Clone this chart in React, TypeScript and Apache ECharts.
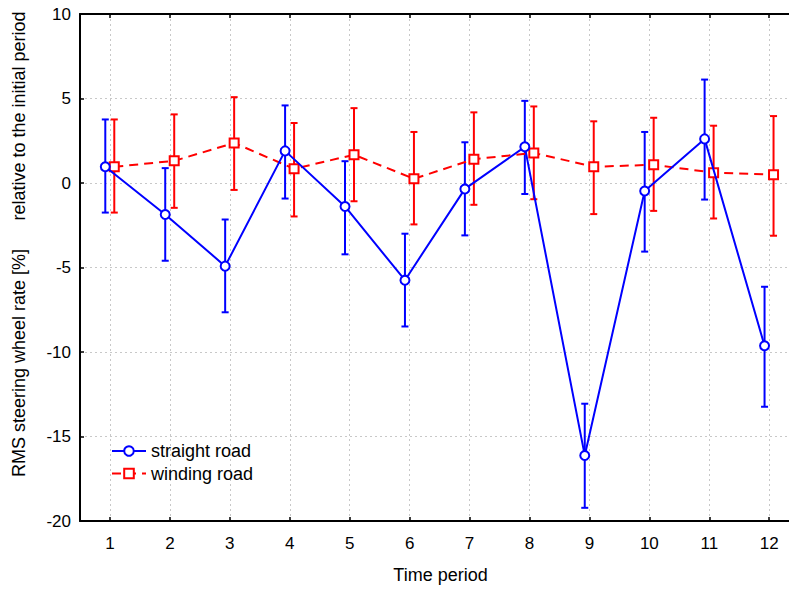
import React, { useEffect, useRef } from "react";
import * as echarts from "echarts";

const categories = [1, 2, 3, 4, 5, 6, 7, 8, 9, 10, 11, 12];
const straightMean = [0.96, -1.86, -4.92, 1.9, -1.39, -5.75, -0.35, 2.14, -16.12, -0.47, 2.61, -9.63];
const straightLow = [-1.75, -4.6, -7.65, -0.92, -4.22, -8.49, -3.1, -0.65, -19.22, -4.06, -0.98, -13.24];
const straightHigh = [3.76, 0.88, -2.16, 4.59, 1.29, -3.0, 2.41, 4.86, -13.06, 3.02, 6.12, -6.14];
const windingMean = [0.96, 1.31, 2.37, 0.84, 1.67, 0.25, 1.41, 1.78, 0.96, 1.08, 0.61, 0.49];
const windingLow = [-1.75, -1.47, -0.41, -1.98, -1.08, -2.45, -1.29, -0.96, -1.84, -1.65, -2.1, -3.12];
const windingHigh = [3.76, 4.06, 5.08, 3.55, 4.43, 3.02, 4.18, 4.53, 3.65, 3.86, 3.39, 3.96];
const yTitleMain = "RMS steering wheel rate [%]";
const yTitleSub = "relative to the initial period";

const FONT = "Liberation Sans";
const BLUE = "#0000ff";
const RED = "#ff0000";
const OFF_S = -0.078;
const OFF_W = 0.072;

function errorSeries(name: string, color: string, off: number, low: number[], high: number[]) {
  return {
    name,
    type: "custom",
    xAxisIndex: 0,
    yAxisIndex: 0,
    encode: { x: 0, y: [1, 2] },
    data: categories.map((c, i) => [c + off, low[i], high[i]]),
    z: 2,
    renderItem: (params: any, api: any) => {
      const x = api.value(0);
      const pLo = api.coord([x, api.value(1)]);
      const pHi = api.coord([x, api.value(2)]);
      const w = 3.5;
      const st = { stroke: color, lineWidth: 2 };
      return {
        type: "group",
        children: [
          { type: "line", shape: { x1: pLo[0], y1: pLo[1], x2: pHi[0], y2: pHi[1] }, style: st },
          { type: "line", shape: { x1: pLo[0] - w, y1: pLo[1], x2: pLo[0] + w, y2: pLo[1] }, style: st },
          { type: "line", shape: { x1: pHi[0] - w, y1: pHi[1], x2: pHi[0] + w, y2: pHi[1] }, style: st },
        ],
      };
    },
  };
}

export default function App() {
  const ref = useRef<HTMLDivElement>(null);
  useEffect(() => {
    if (!ref.current) return;
    const chart = echarts.init(ref.current, null, { renderer: "svg" });
    const gridLine = { show: true, lineStyle: { color: "#c8c8c8", type: [2, 3] as any, width: 1 } };
    chart.setOption({
      animation: false,
      backgroundColor: "#ffffff",
      textStyle: { fontFamily: FONT },
      grid: { left: 80, right: 0, top: 14, bottom: 65, containLabel: false },
      graphic: [
        {
          type: "text",
          x: 19,
          y: 363,
          rotation: Math.PI / 2,
          style: { text: yTitleMain, fontFamily: FONT, fontSize: 18, fill: "#000", align: "center", verticalAlign: "middle" },
        },
        {
          type: "text",
          x: 19,
          y: 116,
          rotation: Math.PI / 2,
          style: { text: yTitleSub, fontFamily: FONT, fontSize: 18, fill: "#000", align: "center", verticalAlign: "middle" },
        },
      ],
      legend: {
        orient: "vertical",
        left: 106,
        top: 437,
        itemWidth: 34,
        itemHeight: 12,
        itemGap: 4.5,
        textStyle: { fontFamily: FONT, fontSize: 18, color: "#000" },
        data: ["straight road", "winding road"],
      },
      xAxis: [
        {
          type: "value",
          min: 0.5,
          max: 12.33,
          position: "bottom",
          name: "Time period",
          nameLocation: "middle",
          nameGap: 45,
          nameTextStyle: { fontFamily: FONT, fontSize: 18, color: "#000", padding: [0, 0, 0, 12] },
          axisLine: { show: true, onZero: false, lineStyle: { color: "#000", width: 2 } },
          axisTick: { show: true, inside: true, length: 4, customValues: categories, lineStyle: { color: "#000", width: 1.5 } },
          axisLabel: { show: true, customValues: categories, margin: 14, fontFamily: FONT, fontSize: 17, color: "#000" },
          splitLine: gridLine,
        },
        {
          type: "value",
          min: 0.5,
          max: 12.33,
          position: "top",
          axisLine: { show: true, onZero: false, lineStyle: { color: "#000", width: 2 } },
          axisTick: { show: true, inside: true, length: 4, customValues: categories, lineStyle: { color: "#000", width: 1.5 } },
          axisLabel: { show: false },
          splitLine: { show: false },
        },
      ],
      yAxis: {
        type: "value",
        min: -20,
        max: 10,
        interval: 5,
        axisLine: { show: true, onZero: false, lineStyle: { color: "#000", width: 2 } },
        axisTick: { show: true, inside: true, length: 4, lineStyle: { color: "#000", width: 1.5 } },
        axisLabel: { margin: 9, fontFamily: FONT, fontSize: 17, color: "#000" },
        splitLine: gridLine,
      },
      series: [
        errorSeries("straight err", BLUE, OFF_S, straightLow, straightHigh),
        errorSeries("winding err", RED, OFF_W, windingLow, windingHigh),
        {
          name: "winding road",
          type: "line",
          xAxisIndex: 0,
          z: 3,
          data: categories.map((c, i) => [c + OFF_W, windingMean[i]]),
          symbol: "emptyRect",
          symbolSize: 9,
          showAllSymbol: true,
          lineStyle: { color: RED, width: 2, type: [9, 6] },
          itemStyle: { color: RED, borderWidth: 2 },
        },
        {
          name: "straight road",
          type: "line",
          xAxisIndex: 0,
          z: 4,
          data: categories.map((c, i) => [c + OFF_S, straightMean[i]]),
          symbol: "emptyCircle",
          symbolSize: 9,
          showAllSymbol: true,
          lineStyle: { color: BLUE, width: 2 },
          itemStyle: { color: BLUE, borderWidth: 2 },
        },
      ],
    });
    return () => chart.dispose();
  }, []);
  return <div ref={ref} style={{ width: 789, height: 589, position: "absolute", left: 0, top: 0 }} />;
}
